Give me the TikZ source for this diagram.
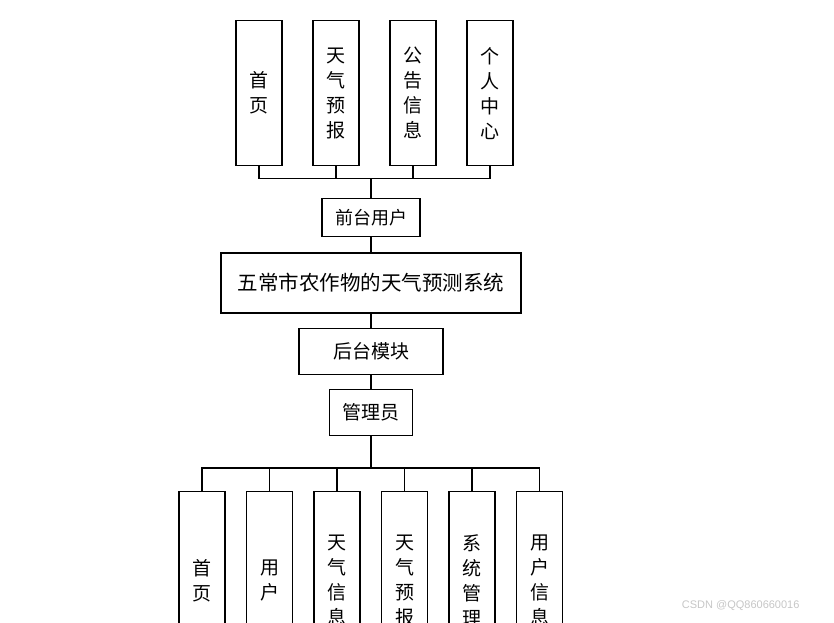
\documentclass[tikz,border=0pt]{standalone}
\usepackage{fontspec}
\newfontfamily\cjk{Noto Sans CJK SC}
\setsansfont{Liberation Sans}
\usetikzlibrary{positioning}
\begin{document}
\begin{tikzpicture}[x=1pt, y=-1pt,
  font=\cjk\fontsize{19}{25}\selectfont,
  box/.style={draw=black, line width=1.2pt, fill=white, align=center, inner sep=0pt},
  tall/.style={box, minimum width=46pt, minimum height=145pt},
  low/.style={box, minimum width=46pt, minimum height=178pt},
  link/.style={line width=1.1pt, draw=black},
  trunk/.style={line width=1.7pt, draw=black},
]
\useasboundingbox (0,0) rectangle (834,622);
\node[box, minimum width=300pt, minimum height=60pt, font=\cjk\fontsize{20.5}{24}\selectfont] (sys) at (371,283) {五常市农作物的天气预测系统};
\node[box, minimum width=98pt, minimum height=38pt, font=\cjk\fontsize{18}{22}\selectfont, above=15pt of sys] (fr) {前台用户};
\node[box, minimum width=144pt, minimum height=46pt, below=14pt of sys] (bk) {后台模块};
\node[box, minimum width=83pt, minimum height=46pt, below=14pt of bk] (adm) {管理员};
% front-end pages
\node[tall, above=32pt of fr, xshift=-112pt] (t1) {首\\页};
\node[tall, right=29.8pt of t1] (t2) {天\\气\\预\\报};
\node[tall, right=29.8pt of t2] (t3) {公\\告\\信\\息};
\node[tall, right=29.8pt of t3] (t4) {个\\人\\中\\心};
% admin pages
\node[low, below=55pt of adm, xshift=-169pt] (b1) {首\\页};
\node[low, right=20.3pt of b1] (b2) {用\\户};
\node[low, right=20.3pt of b2] (b3) {天\\气\\信\\息};
\node[low, right=20.3pt of b3] (b4) {天\\气\\预\\报};
\node[low, right=20.3pt of b4] (b5) {系\\统\\管\\理};
\node[low, right=20.3pt of b5] (b6) {用\\户\\信\\息};
\draw[link] (t1.south) -- ++(0,12) -| (fr.north);
\draw[link] (t2.south) -- ++(0,12) -| (fr.north);
\draw[link] (t3.south) -- ++(0,12) -| (fr.north);
\draw[link] (t4.south) -- ++(0,12) -| (fr.north);
\draw[trunk] (fr.north) -- ++(0,-20);
\draw[link] (fr) -- (sys);
\draw[link] (sys) -- (bk);
\draw[link] (bk) -- (adm);
\draw[link] (adm.south) -- ++(0,32) -| (b1.north);
\draw[link] (adm.south) -- ++(0,32) -| (b2.north);
\draw[link] (adm.south) -- ++(0,32) -| (b3.north);
\draw[link] (adm.south) -- ++(0,32) -| (b4.north);
\draw[link] (adm.south) -- ++(0,32) -| (b5.north);
\draw[link] (adm.south) -- ++(0,32) -| (b6.north);
\draw[trunk] (adm.south) -- ++(0,32);
\node[font=\sffamily\fontsize{11}{13}\selectfont, text=gray!45, anchor=east] (wm) at (803,606) {CSDN @QQ860660016};
\end{tikzpicture}
\end{document}
